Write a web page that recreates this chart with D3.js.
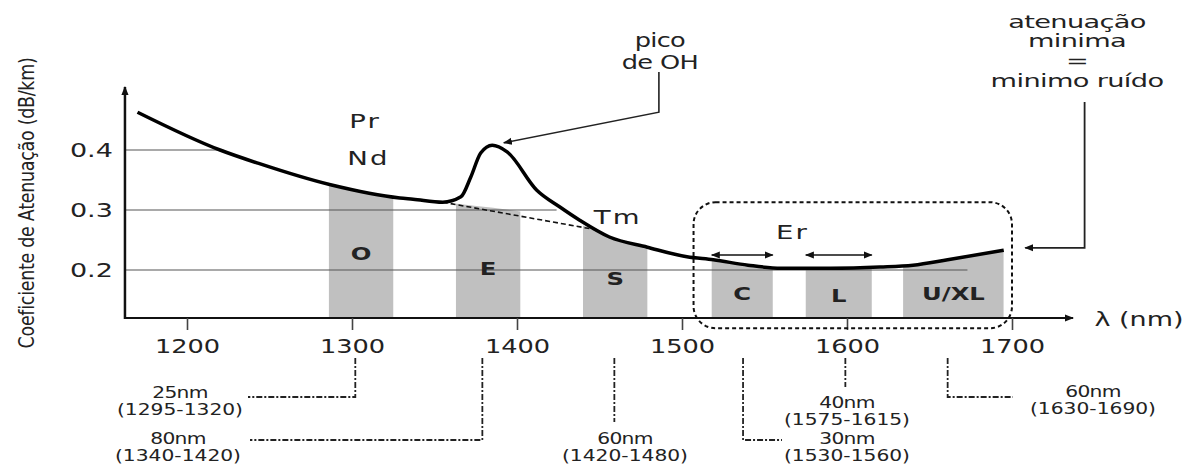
<!DOCTYPE html>
<html>
<head>
<meta charset="utf-8">
<script src="https://cdn.jsdelivr.net/npm/d3@7"></script>
<style>
  body { margin: 0; background: #fff; }
  text { font-family: "DejaVu Sans", sans-serif; fill: #222; }
</style>
</head>
<body>
<div id="chart"></div>
<script>
// Data
const lambda = [1170, 1220, 1243, 1287, 1329, 1337, 1355, 1366, 1372, 1378, 1385, 1394, 1412, 1426, 1438, 1456, 1479, 1503, 1519, 1540, 1560, 1590, 1620, 1640, 1661, 1695];
const atten  = [0.463, 0.400, 0.378, 0.342, 0.320, 0.318, 0.313, 0.322, 0.355, 0.395, 0.408, 0.397, 0.333, 0.305, 0.283, 0.255, 0.238, 0.222, 0.217, 0.208, 0.203, 0.203, 0.205, 0.208, 0.217, 0.233];
// dashed line under the OH peak
const ohBaseLambda = [1355, 1448];
const ohBaseAtten  = [0.313, 0.267];

const bandNames = ["O", "E", "S", "C", "L", "U/XL"];
const bandStart = [1286, 1363, 1440, 1518, 1575, 1634];
const bandEnd   = [1325, 1402, 1479, 1555, 1615, 1695];

const xTicks = [1200, 1300, 1400, 1500, 1600, 1700];
const yTicks = [0.2, 0.3, 0.4];
const gridEnd = [1673, 1424, 1222];

// window notes below the axis
const noteWidth = ["25nm", "80nm", "60nm", "30nm", "40nm", "60nm"];
const noteRange = ["(1295-1320)", "(1340-1420)", "(1420-1480)", "(1530-1560)", "(1575-1615)", "(1630-1690)"];
const noteLambda = [1302, 1379, 1459, 1537, 1599, 1661];

const dopants = [["Pr", 1308, 0.447], ["Nd", 1310, 0.385], ["Tm", 1461, 0.288], ["Er", 1567, 0.262]];

// Dimensions
const dimensions = { width: 1195, height: 466 };

const svg = d3.select("#chart")
  .append("svg")
  .attr("width", dimensions.width)
  .attr("height", dimensions.height);

// the original lettering is a wide geometric face, so text gets stretched
function label(parent, x, y, str, size, sx, weight) {
  return parent.append("text")
    .attr("transform", `translate(${x},${y}) scale(${sx},1)`)
    .attr("text-anchor", "middle")
    .attr("dominant-baseline", "central")
    .attr("font-size", size)
    .attr("font-weight", weight || "normal")
    .text(str);
}

// Scales
const xScale = d3.scaleLinear().domain([1300, 1700]).range([352, 1012]);
const yScale = d3.scaleLinear().domain([0.2, 0.4]).range([270, 150]);

const axisY = yScale(0.12);
const axisX = xScale(1162.4);

const defs = svg.append("defs");
defs.append("marker")
  .attr("id", "head")
  .attr("viewBox", "0 0 10 10")
  .attr("refX", 9).attr("refY", 5)
  .attr("markerWidth", 9).attr("markerHeight", 9)
  .attr("markerUnits", "userSpaceOnUse")
  .attr("orient", "auto-start-reverse")
  .append("path")
  .attr("d", "M0,1 L10,5 L0,9 Z")
  .attr("fill", "#111");

// clip: area below the curve without the OH peak
const basePts = [];
lambda.forEach((l, i) => { if (l <= 1355) basePts.push([l, atten[i]]); });
basePts.push([ohBaseLambda[1], ohBaseAtten[1]]);
lambda.forEach((l, i) => { if (l >= 1456) basePts.push([l, atten[i]]); });

const lineGen = d3.line()
  .x((d) => xScale(d[0]))
  .y((d) => yScale(d[1]))
  .curve(d3.curveMonotoneX);

defs.append("clipPath").attr("id", "under")
  .append("path")
  .attr("d", d3.area()
    .x((d) => xScale(d[0]))
    .y0(axisY)
    .y1((d) => yScale(d[1]))
    .curve(d3.curveMonotoneX)(basePts));

// Bands
svg.append("g")
  .attr("clip-path", "url(#under)")
  .selectAll("rect")
  .data(bandNames)
  .join("rect")
  .attr("x", (d, i) => xScale(bandStart[i]))
  .attr("width", (d, i) => xScale(bandEnd[i]) - xScale(bandStart[i]))
  .attr("y", 60)
  .attr("height", axisY - 60)
  .attr("fill", "#c0c0c0");

// Grid lines
svg.append("g")
  .selectAll("line")
  .data(yTicks)
  .join("line")
  .attr("x1", axisX)
  .attr("x2", (d, i) => xScale(gridEnd[i]))
  .attr("y1", (d) => yScale(d))
  .attr("y2", (d) => yScale(d))
  .attr("stroke", "#555")
  .attr("stroke-width", 1.2);

// Band labels
const bandLabelV = [0.228, 0.203, 0.185, 0.160, 0.157, 0.160];
const bandLabels = svg.append("g");
bandNames.forEach((d, i) => {
  label(bandLabels, (xScale(bandStart[i]) + xScale(bandEnd[i])) / 2, yScale(bandLabelV[i]), d, 18, 1.35, "bold");
});

// Dashed baseline under OH peak
svg.append("path")
  .datum(ohBaseLambda.map((l, i) => [l, ohBaseAtten[i]]))
  .attr("d", d3.line().x((d) => xScale(d[0])).y((d) => yScale(d[1])))
  .attr("fill", "none")
  .attr("stroke", "#111")
  .attr("stroke-width", 1.6)
  .attr("stroke-dasharray", "5,3");

// Attenuation curve
svg.append("path")
  .datum(lambda.map((l, i) => [l, atten[i]]))
  .attr("d", lineGen)
  .attr("fill", "none")
  .attr("stroke", "#000")
  .attr("stroke-width", 3.5)
  .attr("stroke-linejoin", "round");

// Axes lines with arrows
svg.append("line")
  .attr("x1", axisX).attr("x2", xScale(1737))
  .attr("y1", axisY).attr("y2", axisY)
  .attr("stroke", "#111").attr("stroke-width", 2)
  .attr("marker-end", "url(#head)");
svg.append("line")
  .attr("x1", axisX).attr("x2", axisX)
  .attr("y1", axisY + 1).attr("y2", yScale(0.505))
  .attr("stroke", "#111").attr("stroke-width", 2.5)
  .attr("marker-end", "url(#head)");

const xAxis = d3.axisBottom(xScale)
  .tickValues(xTicks)
  .tickSize(12)
  .tickPadding(10)
  .tickFormat(d3.format("d"));
const xAxisGroup = svg.append("g")
  .attr("transform", `translate(0,${axisY})`)
  .call(xAxis);
xAxisGroup.select(".domain").remove();
xAxisGroup.selectAll(".tick line").attr("stroke", "#444").attr("stroke-width", 1.6);
xAxisGroup.selectAll(".tick text")
  .attr("font-family", "DejaVu Sans")
  .attr("font-size", 19)
  .attr("transform", "scale(1.35,1)")
  .attr("fill", "#222");

const yAxis = d3.axisLeft(yScale)
  .tickValues(yTicks)
  .tickSize(0)
  .tickPadding(9)
  .tickFormat(d3.format(".1f"));
const yAxisGroup = svg.append("g")
  .attr("transform", `translate(${axisX},0)`)
  .call(yAxis);
yAxisGroup.select(".domain").remove();
yAxisGroup.selectAll(".tick text")
  .attr("font-family", "DejaVu Sans")
  .attr("font-size", 20)
  .attr("transform", "scale(1.35,1)")
  .attr("fill", "#222");

label(svg, xScale(1750), axisY + 1, "λ (nm)", 20, 1.35).attr("text-anchor", "start");

// y title: squeezed along its length, taller glyphs like the original
svg.append("text")
  .attr("transform", "translate(27,203) rotate(-90) scale(0.92,1.15)")
  .attr("text-anchor", "middle")
  .attr("dominant-baseline", "central")
  .attr("font-size", 19)
  .attr("letter-spacing", -0.3)
  .text("Coeficiente de Atenuação (dB/km)");

// Dopant labels
const dopantGroup = svg.append("g");
dopants.forEach((d) => {
  label(dopantGroup, xScale(d[1]), yScale(d[2]), d[0], 19, 1.45).attr("letter-spacing", 1.5);
});

// Er double arrows (C and L windows)
[3, 4].forEach((i) => {
  svg.append("line")
    .attr("x1", xScale(bandStart[i])).attr("x2", xScale(bandEnd[i]))
    .attr("y1", yScale(0.225)).attr("y2", yScale(0.225))
    .attr("stroke", "#111").attr("stroke-width", 1.5)
    .attr("marker-start", "url(#head)")
    .attr("marker-end", "url(#head)");
});

// Dashed rounded box around C, L, U/XL
svg.append("rect")
  .attr("x", xScale(1507))
  .attr("y", yScale(0.313))
  .attr("width", xScale(1700) - xScale(1507))
  .attr("height", yScale(0.103) - yScale(0.313))
  .attr("rx", 22)
  .attr("fill", "none")
  .attr("stroke", "#111")
  .attr("stroke-width", 2)
  .attr("stroke-dasharray", "4,3");

// Annotations
const ohArrow = [[1486, 0.530], [1486, 0.463], [1392, 0.412]];
svg.append("path")
  .attr("d", d3.line().x((d) => xScale(d[0])).y((d) => yScale(d[1]))(ohArrow))
  .attr("fill", "none").attr("stroke", "#222").attr("stroke-width", 1.6)
  .attr("marker-end", "url(#head)");
label(svg, xScale(1486) + 1, 40, "pico", 19, 1.35).attr("letter-spacing", -0.5);
label(svg, xScale(1486) + 1, 62, "de OH", 19, 1.35).attr("letter-spacing", -0.5);

const minArrow = [[1744, 0.480], [1744, 0.237], [1708, 0.237]];
svg.append("path")
  .attr("d", d3.line().x((d) => xScale(d[0])).y((d) => yScale(d[1]))(minArrow))
  .attr("fill", "none").attr("stroke", "#222").attr("stroke-width", 1.8)
  .attr("marker-end", "url(#head)");
const minText = ["atenuação", "minima", "=", "minimo ruído"];
const minTextY = [22, 41, 61, 81];
const minGroup = svg.append("g");
minText.forEach((d, i) => {
  label(minGroup, 1077, minTextY[i], d, 17, 1.6).attr("letter-spacing", -0.4);
});

// Window notes with dash-dot leaders
const noteTextX = [180, 178, 625, 847, 847, 1093];
const noteTextY = [393, 439, 439, 439, 403, 392];
const leaderBottom = [397, 440, 422, 440, 387, 397];
const leaderEndX = [248, 250, null, 782, null, 1013];
const notes = svg.append("g");
noteLambda.forEach((l, i) => {
  const lx = xScale(l);
  const pts = [[lx, 358], [lx, leaderBottom[i]]];
  if (leaderEndX[i] !== null) pts.push([leaderEndX[i], leaderBottom[i]]);
  notes.append("path")
    .attr("d", d3.line()(pts))
    .attr("fill", "none")
    .attr("stroke", "#222")
    .attr("stroke-width", 1.8)
    .attr("stroke-dasharray", "6,2,2,2");
  label(notes, noteTextX[i], noteTextY[i], noteWidth[i], 15, 1.35).attr("letter-spacing", -0.5);
  label(notes, noteTextX[i], noteTextY[i] + 17, noteRange[i], 15, 1.35);
});
</script>
</body>
</html>
